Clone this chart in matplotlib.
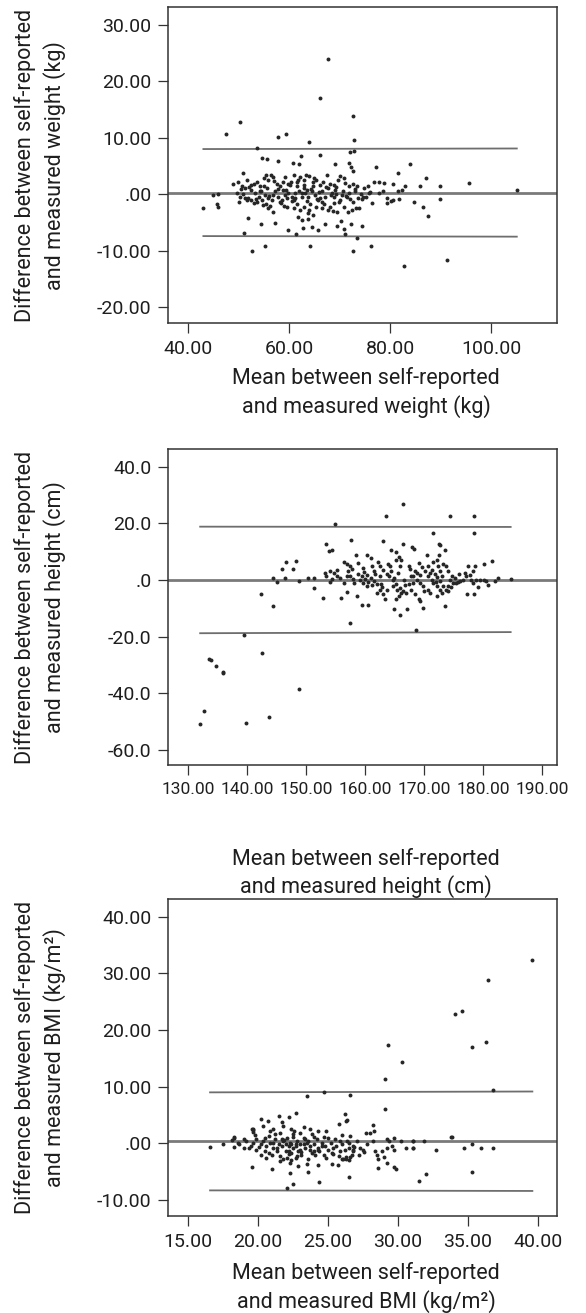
import numpy as np
import matplotlib
matplotlib.use("Agg")
import matplotlib.pyplot as plt

plt.rcParams['font.family'] = ['Roboto', 'DejaVu Sans']

# panel 1: weight (kg)
weight_mean = [
    67.7, 66.2, 72.7, 50.4, 47.6, 57.8, 59.5, 64.0, 72.9, 53.7, 72.0, 72.9, 66.2, 62.4, 54.6, 55.7,
    57.9, 60.8, 62.0, 69.0, 71.8, 72.2, 72.6, 77.2, 83.9, 81.6, 87.1, 95.5, 105.0, 89.8, 89.9, 85.9,
    84.7, 86.5, 87.5, 43.1, 44.9, 45.9, 45.8, 45.9, 48.9, 50.9, 51.2, 51.9, 52.8, 54.4, 55.3, 57.3,
    59.9, 61.3, 62.7, 64.2, 64.5, 65.8, 67.2, 69.4, 71.1, 70.2, 70.8, 72.2, 72.6, 73.5, 74.4, 76.2,
    82.8, 91.3, 61.7, 62.5, 63.8, 63.7, 64.8, 62.9, 64.0, 56.9, 55.8, 72.5, 73.3, 73.9, 74.5, 75.2,
    76.4, 75.9, 76.7, 77.7, 78.7, 80.6, 81.6, 82.3, 83.0, 79.3, 80.1, 80.6, 81.7, 79.3, 78.5, 77.7,
    69.2, 70.0, 71.2, 68.1, 68.7, 67.7, 66.9, 69.4, 71.6, 65.8, 65.4, 59.6, 60.6, 61.5,
    50.0, 50.8, 51.7, 52.5, 53.1, 53.6, 54.2, 55.0, 55.4, 55.9, 56.4, 56.9, 57.6, 58.2, 58.8, 59.2,
    59.9, 60.4, 61.0, 61.5, 62.2, 62.9, 63.4, 64.0, 64.7, 65.4, 66.2, 66.8, 67.5, 68.1, 68.8, 69.6,
    70.1, 70.8, 71.8, 72.7, 73.5, 74.8, 75.7,
    49.7, 50.3, 51.0, 52.0, 52.6, 53.3, 54.0, 54.6, 55.3, 55.9, 56.6, 57.3, 57.9, 58.6, 59.2, 59.9,
    60.6, 61.2, 61.9, 62.5, 63.2, 63.8, 64.5, 65.2, 66.5, 67.1, 68.5, 69.1, 70.4, 71.8, 73.1, 73.7,
    50.2, 51.7, 53.0, 53.6, 54.8, 55.5, 56.3, 58.2, 59.0, 60.9, 62.2, 64.2, 66.5, 68.8, 70.8, 72.7,
    54.3, 56.9, 59.6, 63.5, 65.5, 67.8, 71.4, 52.6, 55.6, 61.5, 62.9, 64.8, 69.8, 74.7, 51.3, 58.8,
    60.9, 66.2, 68.8,
    50.6, 51.4, 52.2, 53.4, 54.4, 55.1, 56.1, 57.0, 57.8, 58.5, 59.4, 60.2, 61.1, 61.8, 62.6, 63.0,
    63.6, 64.4, 65.0, 65.9, 66.6, 67.4, 68.3, 69.3, 70.6, 71.0, 72.0, 73.0, 74.2, 76.0,
]
weight_diff = [
    24.0, 17.0, 13.9, 12.7, 10.6, 10.1, 10.6, 9.3, 9.6, 8.1, 7.5, 7.7, 6.9, 6.7, 6.4, 6.2,
    5.8, 5.6, 5.4, 5.4, 5.6, 4.9, 4.2, 4.9, 5.4, 3.8, 2.9, 2.0, 0.8, 1.5, -0.8, 1.4,
    -1.4, -2.2, -3.8, -2.5, -0.2, 0.0, -1.8, -2.2, 1.9, 3.8, -6.8, -4.2, -10.1, -5.2, -9.1, -5.1,
    -6.3, -7.1, -6.0, -9.1, -5.8, -6.3, -5.2, -5.6, -7.0, -4.8, -6.2, -5.2, -10.0, -7.8, -5.6, -9.1,
    -12.7, -11.6, -4.0, -4.5, -4.3, -3.4, -3.7, -2.2, -2.8, -3.1, -2.5, -2.7, -2.5, -2.4, -0.9, -0.5,
    -1.5, 0.2, 2.2, 2.1, 2.0, 1.8, 0.5, 0.8, 1.5, -0.7, -1.2, -1.0, -0.9, -1.6, 0.5, 0.2,
    0.0, -1.0, -0.3, -2.2, -3.0, -2.7, -1.7, -3.1, -3.2, -1.0, -2.2, -2.2, -1.2, -1.7,
    2.1, 1.4, 2.5, 1.7, 1.9, 2.2, 1.4, 2.8, 3.4, 2.5, 3.4, 3.1, 1.9, 1.4, 2.2, 3.1,
    1.8, 2.2, 3.4, 2.2, 3.1, 2.5, 3.4, 3.2, 2.1, 2.5, 1.7, 2.1, 3.4, 1.9, 1.7, 2.5,
    3.2, 2.8, 1.4, 1.9, 1.4, 1.1, 1.4,
    0.3, -0.4, 0.0, -0.7, -1.0, 0.2, -0.4, -1.0, -0.1, -0.7, -1.0, 0.5, -0.4, -1.0, -0.1, 0.3,
    -0.4, 0.2, 0.6, -0.4, 0.2, -0.4, 0.5, -0.1, 0.5, -0.4, 0.2, 0.8, -0.1, 0.3, 0.5, -0.7,
    -1.3, -1.0, -1.6, -1.4, -1.9, -1.7, -2.1, -1.3, -2.1, -2.5, -2.8, -1.7, -2.5, -1.6, -2.2, -1.3,
    0.5, -0.1, -0.7, 0.8, -0.9, 1.1, -0.4, 0.8, 1.1, 1.4, 1.1, 1.4, -1.3, -0.4, 1.1, 0.8,
    -1.0, -0.7, -0.4,
    0.9, -0.6, 1.2, -0.8, 0.6, 1.5, -0.3, 2.4, 0.9, -1.5, 0.7, 1.6, -0.6, 2.6, 0.3, 1.7,
    -1.2, 1.0, 2.8, 0.4, -1.4, 1.2, -0.2, 1.3, 0.6, 2.0, -0.8, 0.9, 0.1, 0.4,
]
weight_bias = 0.3
weight_loa_x = [43.1, 105.0]
weight_loa_up = [8.0, 8.1]
weight_loa_low = [-7.4, -7.5]

# panel 2: height (cm)
height_mean = [
    166.5, 163.5, 174.5, 178.5, 154.9, 171.5, 178.5, 153.5, 153.9, 154.5, 157.7, 163.0, 166.5, 164.5,
    165.2, 168.0, 168.4, 172.5, 172.7, 173.5, 158.5, 160.4, 161.0, 165.8, 166.2, 170.5, 171.6, 172.6,
    172.3, 181.5, 180.2, 146.6, 148.3, 145.9, 147.9, 144.4, 145.1, 146.5, 148.9, 150.4, 151.3, 151.3,
    152.9, 155.9, 157.0, 158.6, 159.5, 160.5, 165.0, 166.0, 167.1, 169.8, 173.5, 177.3, 178.5, 157.5,
    168.7, 139.5, 142.4, 144.4, 184.7, 182.5, 182.0, 180.9, 180.1, 180.6, 177.5, 178.6, 178.3, 176.9,
    177.2, 178.0, 175.3, 175.8, 173.8, 174.1, 174.7, 172.4, 172.7, 173.0, 174.0, 174.0,
    156.5, 156.9, 157.4, 157.8, 158.9, 159.5, 160.0, 160.6, 161.2, 160.3, 161.0, 161.5, 162.0,
    162.6, 163.1, 163.7, 164.1, 164.7, 165.3, 164.8, 165.4, 165.9, 166.5, 166.9, 168.2, 168.8,
    169.3, 169.9, 170.7, 171.3, 171.9, 172.3, 172.8, 173.3, 173.7,
    161.2, 161.5, 162.3, 162.6, 164.3, 164.5, 165.3, 166.0, 167.4, 167.9, 168.5, 169.1, 169.3,
    170.2, 170.7, 171.3, 168.5, 169.1, 169.3, 167.9, 167.4, 168.1, 166.6, 165.7, 166.2, 165.3,
    163.4, 163.1, 163.8, 162.0, 162.6, 162.8, 159.7, 160.3, 159.2, 158.0, 157.5, 156.9, 155.8,
    155.2, 154.4, 154.1, 153.5, 155.2, 154.7, 156.4, 153.3, 154.1, 158.9, 159.7, 171.6, 172.2,
    172.7, 173.0, 172.2, 170.7, 171.0, 174.4, 175.0, 175.5, 176.1, 176.7, 178.4, 178.9, 179.5,
    157.2, 158.2, 159.9, 161.7, 162.9, 163.9, 164.9, 165.6, 166.8, 167.6, 168.9, 170.0, 171.0,
    172.0, 173.2, 174.6, 176.0, 177.8, 179.2, 169.6,
    133.6, 133.9, 134.8, 135.9, 136.0, 142.6, 148.9, 132.8, 132.1, 139.9, 143.8,
]
height_diff = [
    26.7, 22.7, 22.7, 22.7, 19.8, 16.7, 16.7, 12.7, 10.3, 10.6, 14.2, 13.8, 12.7, 10.6,
    9.7, 11.8, 11.0, 12.7, 12.4, 10.6, 8.8, 8.7, 7.7, 8.1, 7.1, 8.8, 6.5, 8.9,
    7.1, 6.7, 5.5, 6.3, 6.8, 3.9, 3.9, 0.7, -0.7, 0.6, -0.2, 0.6, 0.6, -3.0,
    -6.3, -6.3, -4.3, -5.7, -9.0, -9.0, -10.2, -12.2, -10.2, -9.8, -9.2, -4.8, -5.1, -15.1,
    -17.8, -19.3, -5.1, -9.2, 0.5, 0.7, -0.4, -1.9, 0.1, -0.5, 4.8, 4.8, 3.0, 2.5,
    1.3, -0.1, 0.7, -0.8, 4.8, 3.0, 1.3, 5.0, 3.0, 1.3, -2.2, -4.0,
    6.5, 5.7, 4.8, 4.0, 2.2, 1.3, 0.4, -0.8, -1.8, 1.9, 0.7, -0.5, -1.6,
    4.8, 3.6, 2.2, 1.3, -0.1, -1.3, -2.2, -3.4, -2.8, -4.0, -4.6, 1.3, 0.1,
    -1.1, -2.2, 4.8, 3.6, 2.2, 1.1, -0.5, -2.2, -3.4,
    4.8, 3.0, 6.5, 1.3, 4.8, 3.0, 7.1, 4.8, 4.8, 1.3, 3.0, 6.0, 1.9,
    3.0, 1.3, 0.1, -5.1, -6.9, -7.5, -3.4, -1.6, -1.1, 0.1, -5.7, -4.6, -6.9,
    -6.9, -5.1, -3.4, -4.6, -3.4, -1.6, -1.1, -2.2, 0.1, 0.4, 1.3, 1.3, 0.7,
    1.3, 0.4, -0.7, 1.3, 3.6, 2.5, -1.1, 2.5, 3.0, 6.0, 4.2, -1.1, -2.2,
    -3.4, -4.6, -5.7, -3.4, -4.6, 0.1, -1.1, -1.1, -0.5, 0.1, -1.1, 0.1, 0.1,
    3.0, -1.0, 2.8, 2.0, -2.6, 5.5, 0.8, 2.6, -1.9, 3.8, 2.6, -3.8, 2.4,
    -0.9, 5.8, -2.4, 2.0, 1.8, -2.6, 4.4,
    -27.9, -28.4, -30.3, -32.4, -32.7, -25.9, -38.4, -46.4, -50.9, -50.4, -48.4,
]
height_bias = 0.1
height_loa_x = [132.1, 184.7]
height_loa_up = [18.8, 18.7]
height_loa_low = [-18.8, -18.4]

# panel 3: BMI (kg/m2)
bmi_mean = [
    39.6, 36.4, 34.1, 34.6, 35.3, 36.3, 29.3, 30.3, 29.1, 36.8, 24.7, 23.5, 26.6, 29.1, 33.9, 31.9,
    31.1, 31.1, 32.7, 34.7, 35.3, 35.9, 36.8, 16.6, 17.5,
    35.3, 31.5, 32.0, 26.5, 24.4, 22.5, 22.1, 22.3, 23.6, 21.0, 19.6, 28.6, 29.2, 29.7, 29.9, 25.3,
    25.7, 24.3, 26.0, 26.3, 26.6, 26.5, 27.2, 18.3, 18.3, 18.2, 18.3, 18.6, 19.6, 19.7, 19.7, 20.2,
    20.7, 21.5, 21.7, 22.2, 22.7, 26.2, 26.4, 26.3, 28.2, 28.3, 27.7, 28.0, 25.8, 26.0, 24.9, 24.7,
    33.8, 31.1, 30.6, 31.1, 30.2, 29.7, 29.4, 29.2, 29.6, 29.7, 29.2, 28.9, 28.4, 28.5, 28.6, 29.0,
    27.5, 27.8, 27.3, 27.1, 26.8, 26.8, 26.5,
    18.7, 19.0, 19.2, 19.5, 19.7, 19.9, 19.9, 20.2, 20.4, 20.5, 20.6, 20.8, 20.9, 21.0, 21.1, 21.2,
    21.4, 21.5, 21.6, 21.6, 21.7, 21.8, 22.0, 22.1, 22.1, 22.2, 22.3, 22.4, 22.5, 22.5, 22.7, 22.8,
    22.9, 23.0, 23.0, 23.1, 23.3, 23.4, 23.5, 23.6, 23.7, 23.9, 24.0, 24.1, 24.2, 24.3, 24.4, 24.6,
    24.7, 24.8, 24.9, 25.0, 25.2, 25.3, 25.4, 25.5, 25.6, 25.8, 25.9, 26.0, 26.1, 26.2, 26.4, 26.5,
    26.6, 26.7, 26.8,
    19.7, 20.4, 21.1, 21.8, 22.4, 23.3, 23.7, 24.3, 22.3, 22.9, 23.5, 21.6, 20.6, 20.2, 23.0, 22.7,
    22.2, 21.7, 21.1, 24.0, 23.3, 23.6, 22.4, 22.0, 22.8,
    19.0, 19.4, 19.8, 20.1, 20.5, 20.8, 21.2, 21.4, 21.9, 22.2, 22.5, 22.7, 23.1, 23.4, 23.7, 24.0,
    24.3, 24.6, 25.0, 25.4, 25.9, 26.3, 26.9, 27.6, 28.2, 20.9, 21.8, 22.6, 23.9, 22.4,
]
bmi_diff = [
    32.3, 28.8, 22.9, 23.3, 17.0, 17.8, 17.3, 14.3, 11.4, 9.5, 9.0, 8.4, 8.5, 6.0, 1.2, 0.4,
    0.4, -0.9, -1.2, -0.8, -0.2, -0.9, -0.9, -0.6, -0.1,
    -5.0, -6.6, -5.4, -6.0, -6.8, -7.2, -7.9, -5.3, -5.1, -4.6, -4.1, -4.3, -3.4, -4.1, -4.5, -3.7,
    -3.8, -3.8, -2.7, -2.8, -2.4, -2.9, -2.0, 1.2, 0.9, 0.6, -0.6, 0.1, 2.6, 2.4, 2.0, 4.3,
    3.9, 4.9, 3.8, 4.6, 5.4, 5.2, 4.1, 4.0, 3.3, 2.2, 1.9, 1.9, 3.5, 1.4, 2.1, 1.2,
    1.2, 0.4, -0.9, -0.9, 0.4, 1.0, 0.4, 0.8, -0.5, -1.1, -0.8, -1.3, -1.4, -2.1, -2.8, -2.4,
    -1.1, -0.2, -0.8, 0.4, -0.5, -1.2, 0.1,
    -0.2, -0.8, 0.4, -0.5, 0.1, 0.7, -1.1, -0.2, 0.4, -1.4, -0.5, 1.3, 0.1, -2.0, -0.8, 0.7,
    -1.4, -0.2, 1.9, -2.2, -0.5, 0.4, -1.4, 1.0, -2.5, -0.5, 0.1, -1.7, 1.6, -0.8, -2.5, 0.4,
    -1.4, -0.2, 1.9, -2.0, 1.0, -0.8, 0.1, -2.8, -1.1, 1.6, -0.2, -2.0, 0.7, -0.8, -1.4, 0.1,
    -2.0, -0.5, -2.5, -1.1, 0.1, -1.7, -0.8, 0.7, -0.5, -2.2, -1.4, -0.2, -2.8, -1.1, 0.4, -0.8,
    1.3, -2.0, -1.4,
    2.5, 3.1, 2.5, 3.1, 2.5, 2.8, 2.5, 2.2, -3.4, -4.0, -3.7, -3.1, -2.5, -2.1, -1.1, -0.5,
    -1.4, 0.7, 0.1, -1.4, -0.2, 0.4, -0.2, -0.2, -2.2,
    0.8, -0.9, 1.5, -0.6, 0.9, -1.7, 1.7, -0.9, 0.6, -1.9, 1.2, -0.1, -1.6, 0.7, -0.5, 1.2,
    -1.1, -0.4, 0.9, -1.9, 0.5, -2.4, -0.6, -1.6, 0.4, 2.1, -2.7, 2.2, -1.7, -3.0,
]
bmi_bias = 0.4
bmi_loa_x = [16.6, 39.6]
bmi_loa_up = [9.0, 9.15]
bmi_loa_low = [-8.3, -8.4]

W, H = 586, 1313
fig = plt.figure(figsize=(W / 100, H / 100), dpi=100)


def fmt(v, dec):
    s = f"{v:.{dec}f}"
    if s.startswith("0."):
        s = s[1:]
    return s


def panel(top, bottom, xm, yd, bias, loa_x, loa_up, loa_low, xlim, ylim, xticks, yticks,
          ydec, xlab, ylab, xlab_y, xtick_size=14):
    left, right = 168.3, 557.3
    ax = fig.add_axes([left / W, 1 - bottom / H, (right - left) / W, (bottom - top) / H])
    ax.scatter(xm, yd, s=8, color='#262626', linewidths=0, zorder=3)
    ax.axhline(bias, color='#7a7a7a', lw=2.0, zorder=2)
    ax.plot(loa_x, loa_up, color='#6e6e6e', lw=1.3, zorder=2)
    ax.plot(loa_x, loa_low, color='#6e6e6e', lw=1.3, zorder=2)
    ax.set_xlim(*xlim)
    ax.set_ylim(*ylim)
    ax.set_xticks(xticks)
    ax.set_yticks(yticks)
    ax.set_xticklabels([fmt(v, 2) for v in xticks])
    ax.set_yticklabels([fmt(v, ydec) for v in yticks])
    ax.tick_params(direction='out', length=7, width=0.9, color='#333333', labelsize=14,
                   labelcolor='#1e1e1e', pad=5, top=False, right=False)
    ax.tick_params(axis='x', labelsize=xtick_size)
    for sp in ax.spines.values():
        sp.set_color('#333333')
        sp.set_linewidth(1.1)
    # axis titles as figure text to place them like the original
    cx = 366 / W
    fig.text(cx, 1 - xlab_y[0] / H, xlab[0], ha='center', va='center', fontsize=15.5, color='#1e1e1e')
    fig.text(cx, 1 - xlab_y[1] / H, xlab[1], ha='center', va='center', fontsize=15.5, color='#1e1e1e')
    cy = 1 - (top + bottom) / 2 / H
    fig.text(25 / W, cy, ylab[0], rotation=90, ha='center', va='center', fontsize=15.5, color='#1e1e1e')
    fig.text(55 / W, cy, ylab[1], rotation=90, ha='center', va='center', fontsize=15.5, color='#1e1e1e')
    return ax


panel(7.3, 323.3, weight_mean, weight_diff, weight_bias, weight_loa_x, weight_loa_up, weight_loa_low,
      (36.17, 113.0), (-22.83, 33.08), [40, 60, 80, 100], [-20, -10, 0, 10, 20, 30], 2,
      ["Mean between self-reported", "and measured weight (kg)"],
      ["Difference between self-reported", "and measured weight (kg)"], (378, 407))

panel(449.3, 765, height_mean, height_diff, height_bias, height_loa_x, height_loa_up, height_loa_low,
      (126.7, 192.6), (-65.3, 46.1), [130, 140, 150, 160, 170, 180, 190], [-60, -40, -20, 0, 20, 40], 1,
      ["Mean between self-reported", "and measured height (cm)"],
      ["Difference between self-reported", "and measured height (cm)"], (859, 887), xtick_size=12.5)

panel(899.3, 1216, bmi_mean, bmi_diff, bmi_bias, bmi_loa_x, bmi_loa_up, bmi_loa_low,
      (13.62, 41.38), (-12.82, 43.07), [15, 20, 25, 30, 35, 40], [-10, 0, 10, 20, 30, 40], 2,
      ["Mean between self-reported", "and measured BMI (kg/m²)"],
      ["Difference between self-reported", "and measured BMI (kg/m²)"], (1273, 1302))

fig.savefig("out.png", dpi=100)
